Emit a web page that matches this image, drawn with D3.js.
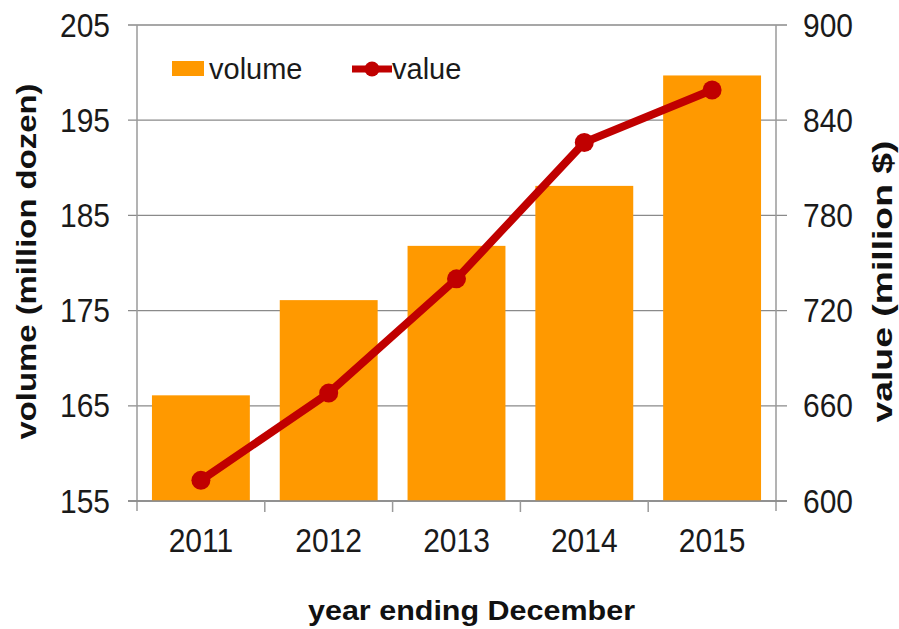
<!DOCTYPE html>
<html>
<head>
<meta charset="utf-8">
<script src="https://cdn.jsdelivr.net/npm/d3@7"></script>
<style>
  html, body { margin: 0; padding: 0; background: #fff; }
  svg { display: block; font-family: "Liberation Sans", Arial, sans-serif; }
</style>
</head>
<body>
<svg id="chart" width="899" height="629"></svg>
<script>
// Annual volume (bars, left axis) and value (line, right axis)
const years = ["2011", "2012", "2013", "2014", "2015"];
const volume = [166.1, 176.1, 181.8, 188.1, 199.7];   // million dozen
const value = [613, 668, 740, 826, 859];               // million $
const volumeTicks = [155, 165, 175, 185, 195, 205];
const valueTicks = [600, 660, 720, 780, 840, 900];

const svg = d3.select("#chart");
const plotLeft = 137, plotRight = 776, plotTop = 25, plotBottom = 501;

const x = d3.scaleBand().domain(years).range([plotLeft, plotRight])
  .paddingInner(0.234).paddingOuter(0.117);
const yL = d3.scaleLinear().domain([155, 205]).range([plotBottom, plotTop]);
const yR = d3.scaleLinear().domain([600, 900]).range([plotBottom, plotTop]);

const gridColor = "#8a8a8a";
const axisColor = "#9a9a9a";

// horizontal gridlines, extending slightly past both axes as tick marks
svg.append("g").selectAll("line").data(volumeTicks).join("line")
  .attr("x1", plotLeft - 9).attr("x2", plotRight + 11)
  .attr("y1", d => yL(d)).attr("y2", d => yL(d))
  .attr("stroke", gridColor).attr("stroke-width", 1.3);

// bars
svg.append("g").selectAll("rect").data(years).join("rect")
  .attr("x", d => x(d))
  .attr("width", x.bandwidth())
  .attr("y", (d, i) => yL(volume[i]))
  .attr("height", (d, i) => plotBottom - yL(volume[i]))
  .attr("fill", "#ff9900");

// axis lines
svg.append("line").attr("x1", plotLeft).attr("x2", plotLeft).attr("y1", plotTop).attr("y2", plotBottom + 10)
  .attr("stroke", axisColor).attr("stroke-width", 1.5);
svg.append("line").attr("x1", plotRight).attr("x2", plotRight).attr("y1", plotTop).attr("y2", plotBottom + 10)
  .attr("stroke", axisColor).attr("stroke-width", 1.5);
svg.append("line").attr("x1", plotLeft - 9).attr("x2", plotRight + 11).attr("y1", plotBottom).attr("y2", plotBottom)
  .attr("stroke", "#8a8a8a").attr("stroke-width", 1.5);

// x tick marks at category boundaries
const gap = x.step() * x.paddingInner();
const bounds = years.slice(1).map(d => x(d) - gap / 2);
svg.append("g").selectAll("line").data(bounds).join("line")
  .attr("x1", d => d).attr("x2", d => d)
  .attr("y1", plotBottom).attr("y2", plotBottom + 11)
  .attr("stroke", axisColor).attr("stroke-width", 1.5);

// tick labels (slightly tall numerals)
const tickFont = 30, tickStretch = 1.1;
svg.append("g").selectAll("text").data(volumeTicks).join("text")
  .attr("transform", d => `translate(110,${yL(d) + 11.5}) scale(1,${tickStretch})`)
  .attr("text-anchor", "end").attr("font-size", tickFont).attr("fill", "#1a1a1a")
  .text(d => d);
svg.append("g").selectAll("text").data(valueTicks).join("text")
  .attr("transform", d => `translate(803,${yR(d) + 11.5}) scale(1,${tickStretch})`)
  .attr("text-anchor", "start").attr("font-size", tickFont).attr("fill", "#1a1a1a")
  .text(d => d);
svg.append("g").selectAll("text").data(years).join("text")
  .attr("transform", d => `translate(${x(d) + x.bandwidth() / 2},552) scale(1,${tickStretch})`)
  .attr("text-anchor", "middle").attr("font-size", tickFont).attr("fill", "#1a1a1a")
  .text(d => d);

// axis titles
svg.append("text").attr("transform", "translate(36,261.5) rotate(-90)")
  .attr("text-anchor", "middle").attr("font-size", 27).attr("font-weight", "bold").attr("fill", "#111")
  .attr("textLength", 356).attr("lengthAdjust", "spacingAndGlyphs")
  .text("volume (million dozen)");
svg.append("text").attr("transform", "translate(892,281.5) rotate(-90)")
  .attr("text-anchor", "middle").attr("font-size", 27).attr("font-weight", "bold").attr("fill", "#111")
  .attr("textLength", 282).attr("lengthAdjust", "spacingAndGlyphs")
  .text("value (million $)");
svg.append("text").attr("x", 471.5).attr("y", 620)
  .attr("text-anchor", "middle").attr("font-size", 28).attr("font-weight", "bold").attr("fill", "#111")
  .attr("textLength", 327).attr("lengthAdjust", "spacingAndGlyphs")
  .text("year ending December");

// value line with markers
const red = "#c00000";
const line = d3.line().x((d, i) => x(years[i]) + x.bandwidth() / 2).y(d => yR(d));
svg.append("path").datum(value).attr("d", line)
  .attr("fill", "none").attr("stroke", red).attr("stroke-width", 8).attr("stroke-linejoin", "round");
svg.append("g").selectAll("circle").data(value).join("circle")
  .attr("cx", (d, i) => x(years[i]) + x.bandwidth() / 2).attr("cy", d => yR(d))
  .attr("r", 9.5).attr("fill", red);

// legend
const lg = svg.append("g");
lg.append("rect").attr("x", 172).attr("y", 61).attr("width", 32).attr("height", 15).attr("fill", "#ff9900");
lg.append("text").attr("x", 209).attr("y", 79).attr("font-size", 29).attr("fill", "#1a1a1a").text("volume");
lg.append("line").attr("x1", 352).attr("x2", 392).attr("y1", 69).attr("y2", 69)
  .attr("stroke", red).attr("stroke-width", 7);
lg.append("circle").attr("cx", 372).attr("cy", 69).attr("r", 7.5).attr("fill", red);
lg.append("text").attr("x", 392).attr("y", 79).attr("font-size", 29).attr("fill", "#1a1a1a").text("value");
</script>
</body>
</html>
